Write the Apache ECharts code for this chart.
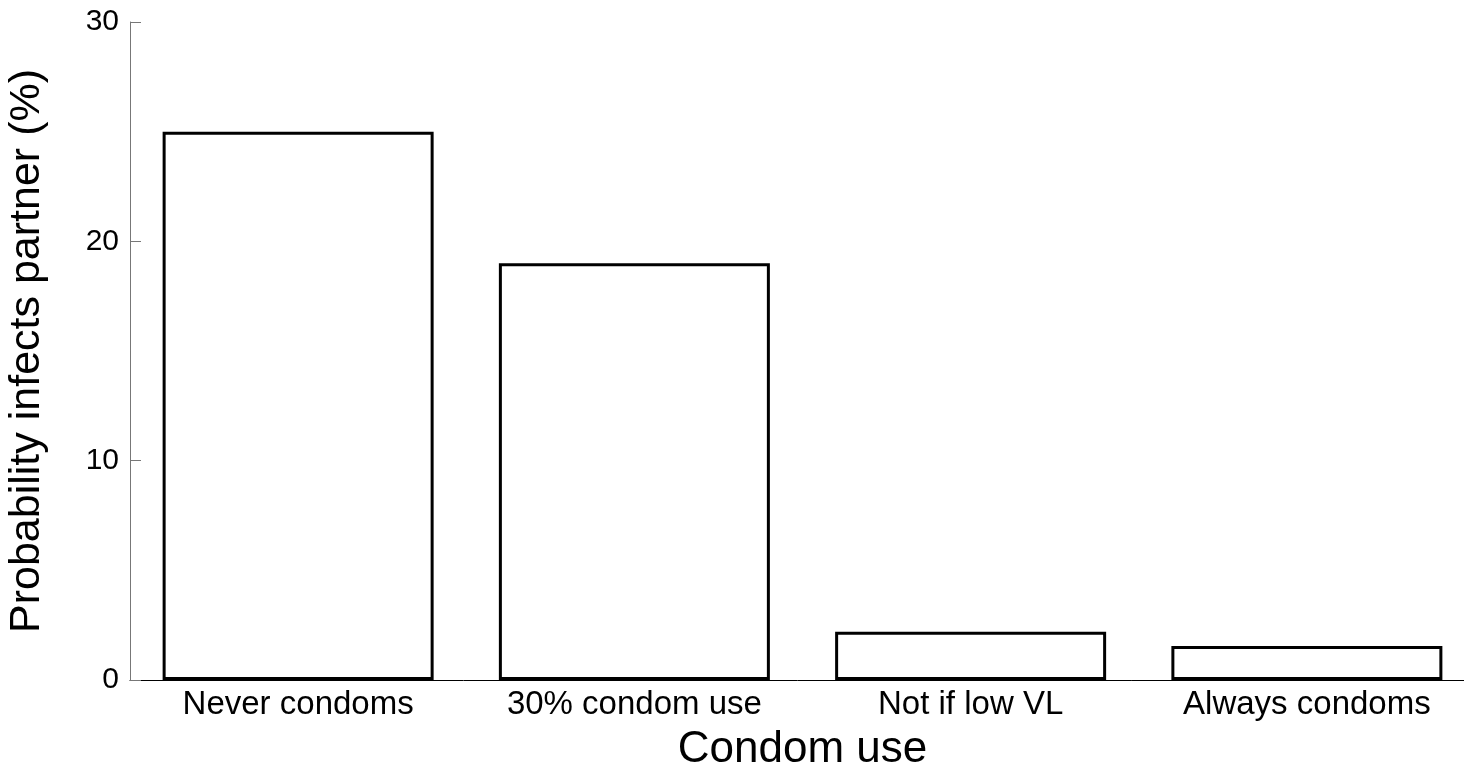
<!DOCTYPE html>
<html>
<head>
<meta charset="utf-8">
<script src="https://cdn.jsdelivr.net/npm/echarts@6/dist/echarts.min.js"></script>
<style>
html,body{margin:0;padding:0;background:#fff;}
#chart{width:1464px;height:764px;}
</style>
</head>
<body>
<div id="chart"></div>
<script>
const categories = ['Never condoms', '30% condom use', 'Not if low VL', 'Always condoms'];
const probabilityValues = [25, 19, 2.2, 1.55];
const yTicks = [0, 10, 20, 30];

const chart = echarts.init(document.getElementById('chart'), null, {renderer: 'canvas'});
const font = '"Liberation Sans", Arial, sans-serif';
chart.setOption({
  animation: false,
  backgroundColor: '#ffffff',
  grid: {left: 130, top: 22, bottom: 84, width: 1345, containLabel: false, outerBoundsMode: 'none'},
  xAxis: {
    type: 'category',
    data: categories,
    name: 'Condom use',
    nameLocation: 'middle',
    nameGap: 48,
    nameTextStyle: {fontFamily: font, fontSize: 44, color: '#000'},
    axisLine: {show: true, lineStyle: {color: '#000', width: 1}},
    axisTick: {show: false},
    axisLabel: {fontFamily: font, fontSize: 33, color: '#000', margin: 8, interval: 0}
  },
  yAxis: {
    type: 'value',
    min: yTicks[0],
    max: yTicks[yTicks.length - 1],
    interval: 10,
    name: 'Probability infects partner (%)',
    nameLocation: 'middle',
    nameGap: 81,
    nameTextStyle: {fontFamily: font, fontSize: 43, color: '#000'},
    axisLine: {show: true, lineStyle: {color: '#777', width: 1}},
    axisTick: {show: true, inside: true, length: 11, lineStyle: {color: '#777', width: 1}},
    axisLabel: {fontFamily: font, fontSize: 30, color: '#000', margin: 11},
    splitLine: {show: false}
  },
  series: [{
    type: 'bar',
    data: probabilityValues,
    barWidth: 271,
    itemStyle: {color: '#ffffff', borderColor: '#000', borderWidth: 3}
  }]
});
</script>
</body>
</html>
